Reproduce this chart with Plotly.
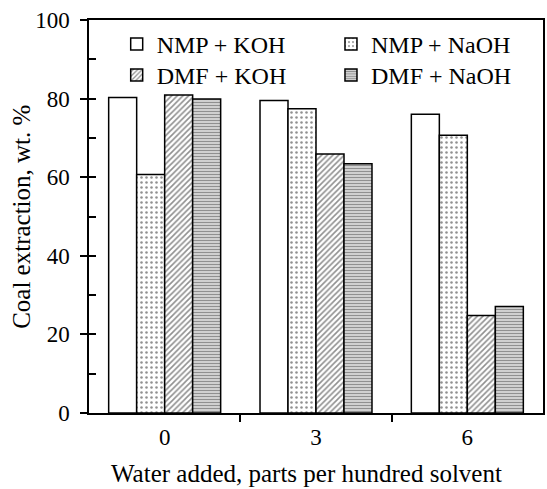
import plotly.graph_objects as go

# Water added (parts per hundred solvent)
water_labels = ["0", "3", "6"]
positions = [0, 1, 2]

# Coal extraction, wt. %
nmp_koh = [80.3, 79.5, 76.0]
nmp_naoh = [60.7, 77.4, 70.7]
dmf_koh = [80.9, 65.9, 24.8]
dmf_naoh = [79.9, 63.4, 27.1]

# (name, values, fill pattern, legend slot)
series = [
    ("NMP + KOH", nmp_koh, dict(shape="", bgcolor="white"), "legend"),
    ("NMP + NaOH", nmp_naoh, dict(shape=".", bgcolor="white", fgcolor="#222222",
                                  size=5, solidity=0.2), "legend2"),
    ("DMF + KOH", dmf_koh, dict(shape="/", bgcolor="white", fgcolor="#222222",
                                size=4, solidity=0.4), "legend3"),
    ("DMF + NaOH", dmf_naoh, dict(shape="-", bgcolor="white", fgcolor="#222222",
                                  size=3, solidity=0.62), "legend4"),
]

FONT = "Liberation Serif, Times New Roman, serif"

fig = go.Figure()
for name, vals, patt, leg in series:
    fig.add_trace(go.Bar(
        x=positions, y=vals, name=name, legend=leg,
        marker=dict(color="white", pattern=patt,
                    line=dict(color="black", width=1.5)),
    ))

# helper trace so the overlaid axis (inner half of the major ticks) is drawn
fig.add_trace(go.Scatter(x=[None], y=[None], yaxis="y2", showlegend=False,
                         hoverinfo="skip"))

legend_style = dict(orientation="v", yanchor="top", xanchor="left",
                    font=dict(size=24), bgcolor="rgba(0,0,0,0)",
                    itemwidth=30, tracegroupgap=0)

fig.update_layout(
    width=547, height=489,
    margin=dict(l=89, r=2, t=20, b=76),
    paper_bgcolor="white", plot_bgcolor="white",
    font=dict(family=FONT, color="black", size=23),
    barmode="group", bargap=0.26, bargroupgap=0,
    # 2 x 2 legend grid
    legend=dict(x=0.061, y=0.995, **legend_style),
    legend2=dict(x=0.533, y=0.995, **legend_style),
    legend3=dict(x=0.061, y=0.916, **legend_style),
    legend4=dict(x=0.533, y=0.916, **legend_style),
    xaxis=dict(
        range=[-0.5, 2.5], tickmode="array", tickvals=positions,
        ticktext=water_labels, ticks="", showline=True, linecolor="black",
        linewidth=1.5, mirror=True, showgrid=False, zeroline=False,
        ticklabelstandoff=3,
        minor=dict(tickmode="array", tickvals=[0.5, 1.5], ticks="outside",
                   ticklen=7, tickwidth=1.5, tickcolor="black"),
    ),
    yaxis=dict(
        range=[0, 100], tickmode="array", tickvals=[0, 20, 40, 60, 80, 100],
        ticks="outside", ticklen=7, tickwidth=1.5, tickcolor="black",
        showline=True, linecolor="black", linewidth=1.5, mirror=True,
        showgrid=False, zeroline=False, ticklabelstandoff=6,
        minor=dict(tickmode="array", tickvals=[10, 30, 50, 70, 90],
                   ticks="inside", ticklen=7, tickwidth=1.5, tickcolor="black"),
    ),
    yaxis2=dict(
        overlaying="y", side="left", range=[0, 100], tickmode="array",
        tickvals=[0, 20, 40, 60, 80, 100], ticks="inside", ticklen=7,
        tickwidth=1.5, tickcolor="black", showticklabels=False,
        showgrid=False, zeroline=False, showline=False,
    ),
    annotations=[
        dict(text="Water added, parts per hundred solvent", showarrow=False,
             xref="paper", yref="paper", x=0.48, y=-0.153,
             xanchor="center", yanchor="middle", font=dict(size=25)),
        dict(text="Coal extraction, wt. %", showarrow=False, textangle=-90,
             xref="paper", yref="paper", x=-0.149, y=0.5,
             xanchor="center", yanchor="middle", font=dict(size=25)),
    ],
)

fig.write_html("out.html")
